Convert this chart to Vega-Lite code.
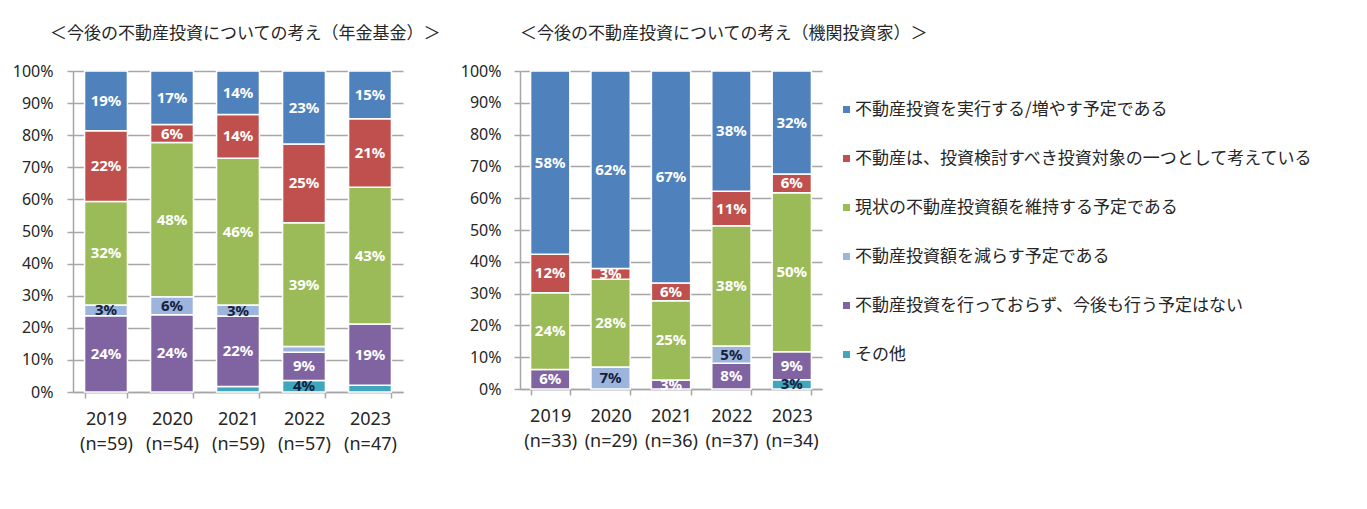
{
  "$schema": "https://vega.github.io/schema/vega-lite/v6.json",
  "background": "white",
  "padding": {"left": 12, "top": 25, "right": 5, "bottom": 5},
  "bounds": "flush",
  "spacing": 117,
  "config": {
    "view": {"stroke": null},
    "font": "Noto Sans",
    "axisX": {
      "title": null, "labelAngle": 0, "labelExpr": "split(datum.label, ' ')",
      "labelFontSize": 18, "labelColor": "#262626", "labelLineHeight": 25, "labelPadding": 12,
      "tickBand": "extent", "tickSize": 6, "tickColor": "#A6A6A6", "domainColor": "#A6A6A6", "domainWidth": 1.5, "tickWidth": 1.5, "grid": false
    },
    "axisY": {
      "title": null, "values": [0, 0.1, 0.2, 0.3, 0.4, 0.5, 0.6, 0.7, 0.8, 0.9, 1],
      "format": ".0%", "labelFontSize": 16, "labelColor": "#262626", "tickSize": 6, "labelPadding": 14,
      "tickColor": "#A6A6A6", "domainColor": "#A6A6A6", "gridColor": "#A6A6A6", "grid": true, "domainWidth": 1.5, "tickWidth": 1.5, "gridWidth": 1.5
    },
    "title": {"font": "Noto Sans CJK JP", "fontSize": 17, "fontWeight": "normal", "color": "#262626", "anchor": "start", "frame": "group"}
  },
  "resolve": {"scale": {"color": "shared"}, "legend": {"color": "independent"}},
  "datasets": {
    "pension": [
      {"year": "2019 (n=59)", "cat": "不動産投資を行っておらず、今後も行う予定はない", "ord": 1, "value": 0.237},
      {"year": "2019 (n=59)", "cat": "不動産投資額を減らす予定である", "ord": 2, "value": 0.034},
      {"year": "2019 (n=59)", "cat": "現状の不動産投資額を維持する予定である", "ord": 3, "value": 0.322},
      {"year": "2019 (n=59)", "cat": "不動産は、投資検討すべき投資対象の一つとして考えている", "ord": 4, "value": 0.220},
      {"year": "2019 (n=59)", "cat": "不動産投資を実行する/増やす予定である", "ord": 5, "value": 0.186},
      {"year": "2020 (n=54)", "cat": "不動産投資を行っておらず、今後も行う予定はない", "ord": 1, "value": 0.241},
      {"year": "2020 (n=54)", "cat": "不動産投資額を減らす予定である", "ord": 2, "value": 0.056},
      {"year": "2020 (n=54)", "cat": "現状の不動産投資額を維持する予定である", "ord": 3, "value": 0.481},
      {"year": "2020 (n=54)", "cat": "不動産は、投資検討すべき投資対象の一つとして考えている", "ord": 4, "value": 0.056},
      {"year": "2020 (n=54)", "cat": "不動産投資を実行する/増やす予定である", "ord": 5, "value": 0.167},
      {"year": "2021 (n=59)", "cat": "その他", "ord": 0, "value": 0.017},
      {"year": "2021 (n=59)", "cat": "不動産投資を行っておらず、今後も行う予定はない", "ord": 1, "value": 0.220},
      {"year": "2021 (n=59)", "cat": "不動産投資額を減らす予定である", "ord": 2, "value": 0.034},
      {"year": "2021 (n=59)", "cat": "現状の不動産投資額を維持する予定である", "ord": 3, "value": 0.458},
      {"year": "2021 (n=59)", "cat": "不動産は、投資検討すべき投資対象の一つとして考えている", "ord": 4, "value": 0.136},
      {"year": "2021 (n=59)", "cat": "不動産投資を実行する/増やす予定である", "ord": 5, "value": 0.136},
      {"year": "2022 (n=57)", "cat": "その他", "ord": 0, "value": 0.036},
      {"year": "2022 (n=57)", "cat": "不動産投資を行っておらず、今後も行う予定はない", "ord": 1, "value": 0.088},
      {"year": "2022 (n=57)", "cat": "不動産投資額を減らす予定である", "ord": 2, "value": 0.018},
      {"year": "2022 (n=57)", "cat": "現状の不動産投資額を維持する予定である", "ord": 3, "value": 0.386},
      {"year": "2022 (n=57)", "cat": "不動産は、投資検討すべき投資対象の一つとして考えている", "ord": 4, "value": 0.246},
      {"year": "2022 (n=57)", "cat": "不動産投資を実行する/増やす予定である", "ord": 5, "value": 0.228},
      {"year": "2023 (n=47)", "cat": "その他", "ord": 0, "value": 0.021},
      {"year": "2023 (n=47)", "cat": "不動産投資を行っておらず、今後も行う予定はない", "ord": 1, "value": 0.191},
      {"year": "2023 (n=47)", "cat": "現状の不動産投資額を維持する予定である", "ord": 3, "value": 0.426},
      {"year": "2023 (n=47)", "cat": "不動産は、投資検討すべき投資対象の一つとして考えている", "ord": 4, "value": 0.213},
      {"year": "2023 (n=47)", "cat": "不動産投資を実行する/増やす予定である", "ord": 5, "value": 0.149}
    ],
    "inst": [
      {"year": "2019 (n=33)", "cat": "不動産投資を行っておらず、今後も行う予定はない", "ord": 1, "value": 0.061},
      {"year": "2019 (n=33)", "cat": "現状の不動産投資額を維持する予定である", "ord": 3, "value": 0.242},
      {"year": "2019 (n=33)", "cat": "不動産は、投資検討すべき投資対象の一つとして考えている", "ord": 4, "value": 0.121},
      {"year": "2019 (n=33)", "cat": "不動産投資を実行する/増やす予定である", "ord": 5, "value": 0.576},
      {"year": "2020 (n=29)", "cat": "不動産投資額を減らす予定である", "ord": 2, "value": 0.069},
      {"year": "2020 (n=29)", "cat": "現状の不動産投資額を維持する予定である", "ord": 3, "value": 0.276},
      {"year": "2020 (n=29)", "cat": "不動産は、投資検討すべき投資対象の一つとして考えている", "ord": 4, "value": 0.034},
      {"year": "2020 (n=29)", "cat": "不動産投資を実行する/増やす予定である", "ord": 5, "value": 0.621},
      {"year": "2021 (n=36)", "cat": "不動産投資を行っておらず、今後も行う予定はない", "ord": 1, "value": 0.028},
      {"year": "2021 (n=36)", "cat": "現状の不動産投資額を維持する予定である", "ord": 3, "value": 0.250},
      {"year": "2021 (n=36)", "cat": "不動産は、投資検討すべき投資対象の一つとして考えている", "ord": 4, "value": 0.056},
      {"year": "2021 (n=36)", "cat": "不動産投資を実行する/増やす予定である", "ord": 5, "value": 0.667},
      {"year": "2022 (n=37)", "cat": "不動産投資を行っておらず、今後も行う予定はない", "ord": 1, "value": 0.081},
      {"year": "2022 (n=37)", "cat": "不動産投資額を減らす予定である", "ord": 2, "value": 0.054},
      {"year": "2022 (n=37)", "cat": "現状の不動産投資額を維持する予定である", "ord": 3, "value": 0.378},
      {"year": "2022 (n=37)", "cat": "不動産は、投資検討すべき投資対象の一つとして考えている", "ord": 4, "value": 0.108},
      {"year": "2022 (n=37)", "cat": "不動産投資を実行する/増やす予定である", "ord": 5, "value": 0.378},
      {"year": "2023 (n=34)", "cat": "その他", "ord": 0, "value": 0.029},
      {"year": "2023 (n=34)", "cat": "不動産投資を行っておらず、今後も行う予定はない", "ord": 1, "value": 0.088},
      {"year": "2023 (n=34)", "cat": "現状の不動産投資額を維持する予定である", "ord": 3, "value": 0.500},
      {"year": "2023 (n=34)", "cat": "不動産は、投資検討すべき投資対象の一つとして考えている", "ord": 4, "value": 0.059},
      {"year": "2023 (n=34)", "cat": "不動産投資を実行する/増やす予定である", "ord": 5, "value": 0.324}
    ]
  },
  "hconcat": [
    {
      "width": 330, "height": 321,
      "title": {"text": "＜今後の不動産投資についての考え（年金基金）＞", "dx": -23, "offset": 20},
      "data": {"name": "pension"},
      "encoding": {
        "x": {"field": "year", "type": "nominal", "sort": null, "scale": {"paddingInner": 0.35, "paddingOuter": 0.175}},
        "y": {"field": "value", "type": "quantitative", "stack": "normalize", "scale": {"domain": [0, 1]}}
      },
      "layer": [
        {
          "mark": {"type": "bar", "stroke": "white", "strokeWidth": 1.5},
          "encoding": {
            "color": {"field": "cat", "type": "nominal", "legend": null,
              "scale": {"domain": ["不動産投資を実行する/増やす予定である", "不動産は、投資検討すべき投資対象の一つとして考えている", "現状の不動産投資額を維持する予定である", "不動産投資額を減らす予定である", "不動産投資を行っておらず、今後も行う予定はない", "その他"],
                "range": ["#4F81BD", "#C0504D", "#9BBB59", "#9DB4DC", "#8064A2", "#3FA6BE"]}},
            "order": {"field": "ord", "type": "quantitative"}
          }
        },
        {
          "mark": {"type": "text", "fontSize": 15, "fontWeight": "bold"},
          "encoding": {
            "y": {"field": "value", "type": "quantitative", "stack": "normalize", "bandPosition": 0.5},
            "detail": {"field": "cat"},
            "order": {"field": "ord", "type": "quantitative"},
            "text": {"condition": {"test": "datum.value < 0.025", "value": ""}, "field": "value", "type": "quantitative", "format": ".0%"},
            "color": {"condition": {"test": "datum.ord === 0 || datum.ord === 2", "value": "#14213D"}, "value": "white"}
          }
        }
      ]
    },
    {
      "width": 302, "height": 318,
      "title": {"text": "＜今後の不動産投資についての考え（機関投資家）＞", "dx": 0, "offset": 20},
      "data": {"name": "inst"},
      "encoding": {
        "x": {"field": "year", "type": "nominal", "sort": null, "scale": {"paddingInner": 0.35, "paddingOuter": 0.175}},
        "y": {"field": "value", "type": "quantitative", "stack": "normalize", "scale": {"domain": [0, 1]}, "axis": {"labelPadding": 13}}
      },
      "layer": [
        {
          "mark": {"type": "bar", "stroke": "white", "strokeWidth": 1.5},
          "encoding": {
            "color": {"field": "cat", "type": "nominal",
              "scale": {"domain": ["不動産投資を実行する/増やす予定である", "不動産は、投資検討すべき投資対象の一つとして考えている", "現状の不動産投資額を維持する予定である", "不動産投資額を減らす予定である", "不動産投資を行っておらず、今後も行う予定はない", "その他"],
                "range": ["#4F81BD", "#C0504D", "#9BBB59", "#9DB4DC", "#8064A2", "#3FA6BE"]},
              "legend": {"title": null, "orient": "none", "legendX": 318, "legendY": 30, "padding": 0,
                "symbolType": "square", "symbolSize": 49, "symbolStrokeWidth": 0,
                "labelFont": "Noto Sans CJK JP", "labelFontSize": 17, "labelColor": "#262626",
                "rowPadding": 31, "labelOffset": 0, "labelLimit": 0}},
            "order": {"field": "ord", "type": "quantitative"}
          }
        },
        {
          "mark": {"type": "text", "fontSize": 15, "fontWeight": "bold"},
          "encoding": {
            "y": {"field": "value", "type": "quantitative", "stack": "normalize", "bandPosition": 0.5},
            "detail": {"field": "cat"},
            "order": {"field": "ord", "type": "quantitative"},
            "text": {"condition": {"test": "datum.value < 0.025", "value": ""}, "field": "value", "type": "quantitative", "format": ".0%"},
            "color": {"condition": {"test": "datum.ord === 0 || datum.ord === 2", "value": "#14213D"}, "value": "white"}
          }
        }
      ]
    }
  ]
}
